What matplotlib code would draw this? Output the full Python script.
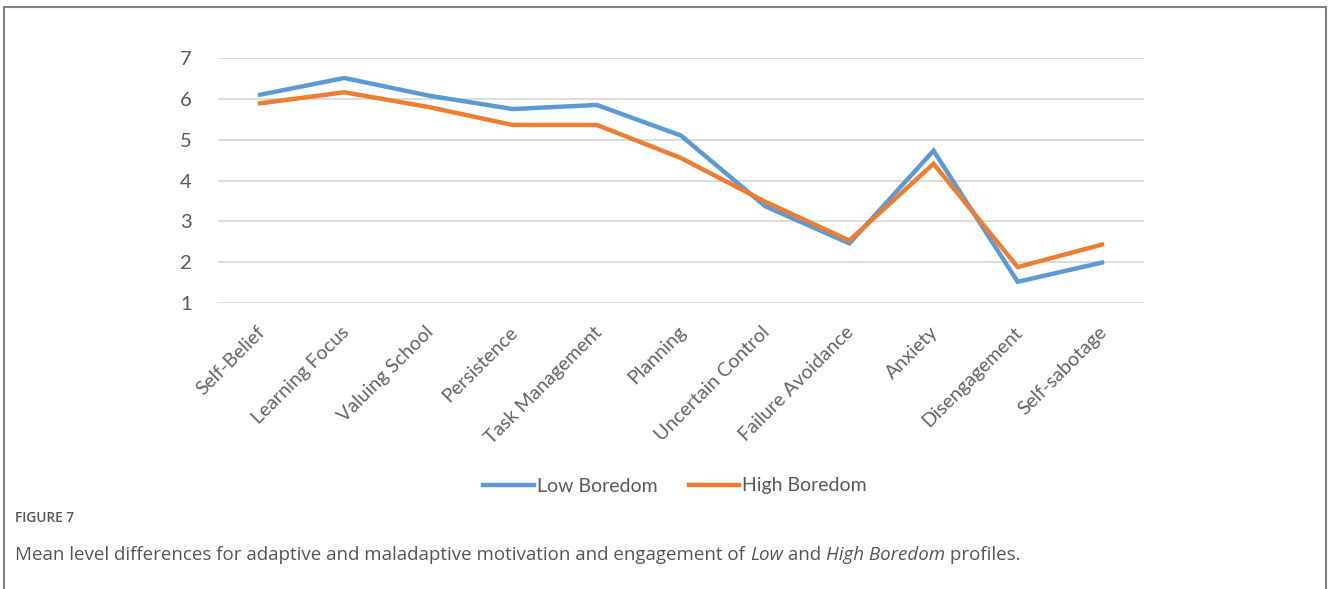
import matplotlib.pyplot as plt
from matplotlib.lines import Line2D
from matplotlib.transforms import ScaledTranslation

# mean scores per motivation / engagement factor
factors = ['Self-Belief', 'Learning Focus', 'Valuing School', 'Persistence',
           'Task Management', 'Planning', 'Uncertain Control', 'Failure Avoidance',
           'Anxiety', 'Disengagement', 'Self-sabotage']
low_boredom = [6.10, 6.51, 6.08, 5.75, 5.85, 5.10, 3.37, 2.46, 4.73, 1.52, 1.99]
high_boredom = [5.89, 6.16, 5.80, 5.36, 5.36, 4.55, 3.48, 2.53, 4.41, 1.88, 2.43]
series_names = ['Low Boredom', 'High Boredom']
yticks = [1, 2, 3, 4, 5, 6, 7]

W, H = 1328, 589
blue = '#5b9bd5'
orange = '#ed7d31'
label_col = '#595959'

fig = plt.figure(figsize=(W / 100, H / 100), dpi=100)
ax = fig.add_axes([218 / W, 1 - 303 / H, 926 / W, 245 / H])

x = range(len(factors))
ax.plot(x, low_boredom, color=blue, lw=3.2, solid_joinstyle='miter')
ax.plot(x, high_boredom, color=orange, lw=3.2, solid_joinstyle='miter')

ax.set_xlim(-0.5, len(factors) - 0.5)
ax.set_ylim(1, 7)
ax.set_yticks(yticks)
ax.yaxis.grid(True, color='#d9d9d9', lw=1.3)
ax.set_axisbelow(True)
for s in ax.spines.values():
    s.set_visible(False)

ax.tick_params(axis='y', length=0, pad=19, labelsize=14.5, labelcolor=label_col)
ax.tick_params(axis='x', length=0, pad=19, labelsize=14, labelcolor='#636363')
ax.set_xticks(list(x))
ax.set_xticklabels(factors, rotation=45, ha='right', va='center',
                   rotation_mode='anchor', family='Lato')
for lab in ax.get_yticklabels():
    lab.set_family('Lato')
shift = ScaledTranslation(2 / 100, 0, fig.dpi_scale_trans)
for lab in ax.get_xticklabels():
    lab.set_transform(lab.get_transform() + shift)

handles = [Line2D([], [], color=blue, lw=3.2), Line2D([], [], color=orange, lw=3.2)]
fig.legend(handles, series_names, loc='center', ncol=2, frameon=False,
           bbox_to_anchor=(675 / W, 1 - 486 / H), handlelength=2.6,
           handletextpad=0.15, columnspacing=1.6,
           prop={'family': 'Lato', 'size': 14}, labelcolor=label_col)

# frame around the figure panel (open at the bottom)
frame = dict(color='#808080', lw=1.5, transform=fig.transFigure)
fig.add_artist(Line2D([4 / W, 4 / W], [0, 1 - 7 / H], **frame))
fig.add_artist(Line2D([4 / W, 1326 / W], [1 - 7 / H, 1 - 7 / H], **frame))
fig.add_artist(Line2D([1326 / W, 1326 / W], [0, 1 - 7 / H], **frame))

cap_col = '#555555'
fig.text(15 / W, 1 - 518 / H, 'FIGURE 7', family='Open Sans', weight='semibold',
         size=9.8, color=cap_col, va='center')

parts = [('Mean level differences for adaptive and maladaptive motivation and '
          'engagement of ', 'normal'),
         ('Low', 'italic'), (' and ', 'normal'), ('High Boredom', 'italic'),
         (' profiles.', 'normal')]
renderer = fig.canvas.get_renderer()
xpos = 15
for txt, style in parts:
    t = fig.text(xpos / W, 1 - 555 / H, txt, family='Open Sans', style=style,
                 size=13.5, color=cap_col, va='center')
    bb = t.get_window_extent(renderer)
    xpos += bb.width

fig.savefig('out.png', dpi=100)
